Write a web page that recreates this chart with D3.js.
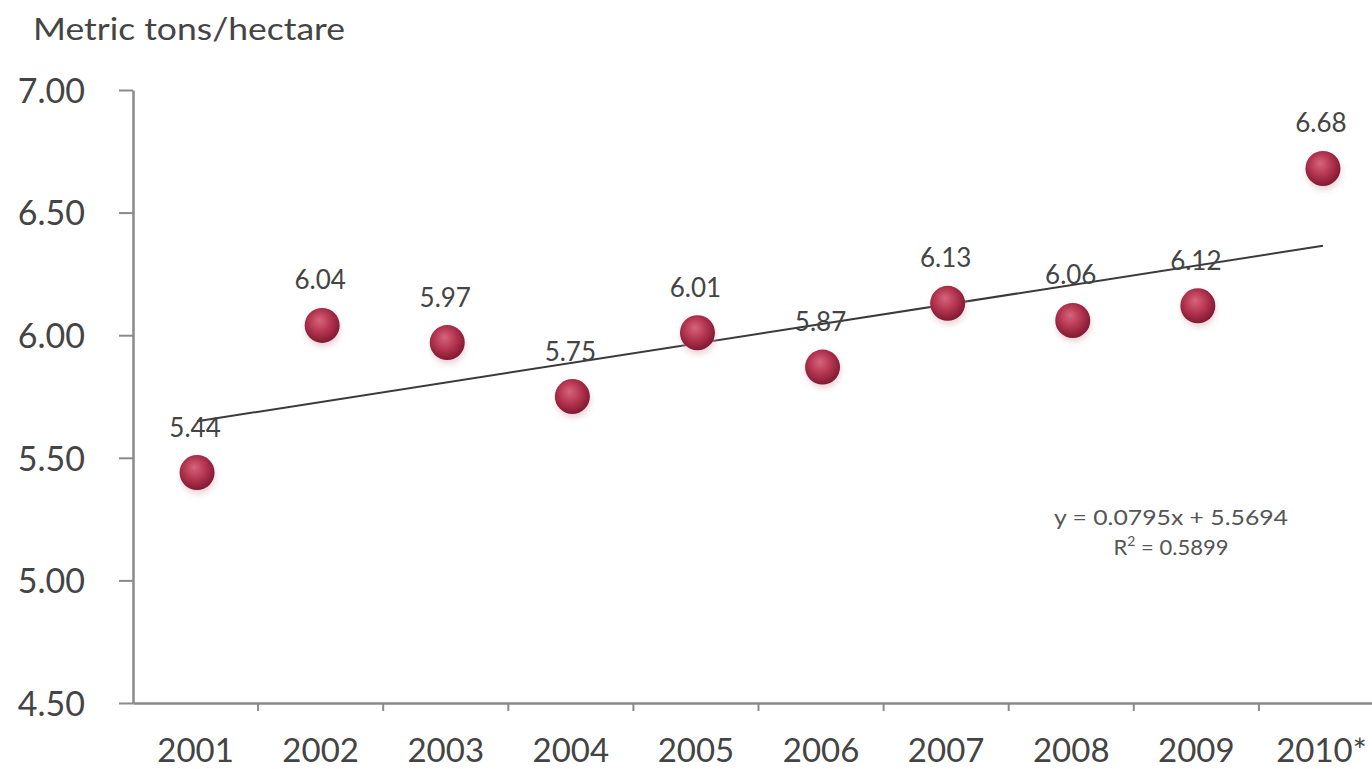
<!DOCTYPE html>
<html>
<head>
<meta charset="utf-8">
<script src="https://cdn.jsdelivr.net/npm/d3@7"></script>
<style>
  html, body { margin: 0; padding: 0; background: #ffffff; }
  svg { display: block; }
</style>
</head>
<body>
<svg id="chart" width="1372" height="769"></svg>
<script>
// ---- Data ----
const categories = ["2001", "2002", "2003", "2004", "2005", "2006", "2007", "2008", "2009", "2010*"];
const yieldValues = [5.44, 6.04, 5.97, 5.75, 6.01, 5.87, 6.13, 6.06, 6.12, 6.68];
const yTicks = [4.5, 5.0, 5.5, 6.0, 6.5, 7.0];
const trendSlope = 0.0795;
const trendIntercept = 5.5694;
const trendR2 = 0.5899;
const yAxisTitle = "Metric tons/hectare";

// ---- Layout ----
const svg = d3.select("#chart");
const plotLeft = 133, plotRight = 1384, plotTop = 90, plotBottom = 703;
const font = "Lato, 'Open Sans', 'DejaVu Sans', sans-serif";
const textColor = "#444";

const x = d3.scaleBand().domain(categories).range([plotLeft, plotRight]).padding(0);
const y = d3.scaleLinear().domain([4.5, 7.0]).range([plotBottom, plotTop]);

// gradient for balls
const defs = svg.append("defs");
const grad = defs.append("radialGradient").attr("id", "ball")
  .attr("cx", "45%").attr("cy", "42%").attr("r", "60%").attr("fx", "42%").attr("fy", "35%");
grad.append("stop").attr("offset", "0%").attr("stop-color", "#d8647c");
grad.append("stop").attr("offset", "55%").attr("stop-color", "#b2334e");
grad.append("stop").attr("offset", "100%").attr("stop-color", "#7c1830");
const blur = defs.append("filter").attr("id", "shadow").attr("x", "-50%").attr("y", "-50%").attr("width", "200%").attr("height", "200%");
blur.append("feGaussianBlur").attr("stdDeviation", 3);

// Y axis
const yAxis = d3.axisLeft(y).tickValues(yTicks).tickFormat(d3.format(".2f")).tickSizeOuter(0).tickSizeInner(14).tickPadding(34);
const gy = svg.append("g").attr("transform", `translate(${plotLeft},0)`).call(yAxis);
gy.select(".domain").attr("stroke", "#8a8a8a").attr("stroke-width", 2.5);
gy.selectAll(".tick line").attr("stroke", "#8a8a8a").attr("stroke-width", 2);
gy.selectAll(".tick text").attr("fill", textColor).attr("dy", "0.36em")
  .style("font-family", font).style("font-size", "34px");

// X axis (labels)
const xAxis = d3.axisBottom(x).tickSize(0);
const gx = svg.append("g").attr("transform", `translate(0,${plotBottom})`).call(xAxis);
gx.select(".domain").attr("stroke", "#8a8a8a").attr("stroke-width", 2.5);
gx.selectAll(".tick text").attr("fill", textColor).attr("y", 59).attr("dy", 0)
  .style("font-family", font).style("font-size", "33px");
// boundary ticks
gx.selectAll(".bound").data(categories.slice(1)).enter().append("line")
  .attr("x1", d => x(d)).attr("x2", d => x(d))
  .attr("y1", 0).attr("y2", 8)
  .attr("stroke", "#8a8a8a").attr("stroke-width", 2);

// Axis title
svg.append("text").attr("x", 33).attr("y", 40).text(yAxisTitle)
  .attr("textLength", 312).attr("lengthAdjust", "spacingAndGlyphs")
  .attr("fill", textColor).style("font-family", font).style("font-size", "31px");

// Trend line
const cx = (c) => x(c) + x.bandwidth() / 2 + 1.5;
const trendData = [0, categories.length - 1].map(i => ({ c: categories[i], v: trendSlope * (i + 1) + trendIntercept }));
svg.append("path")
  .datum(trendData)
  .attr("d", d3.line().x(d => cx(d.c)).y(d => y(d.v)))
  .attr("stroke", "#3a3a3a").attr("stroke-width", 2).attr("fill", "none");

// Balls
const pts = categories.map((c, i) => ({ c, v: yieldValues[i] }));
svg.selectAll(".shadow").data(pts).enter().append("circle")
  .attr("cx", d => cx(d.c) + 1).attr("cy", d => y(d.v) + 4).attr("r", 17)
  .attr("fill", "#d8b0b8").attr("opacity", 0.6).attr("filter", "url(#shadow)");
svg.selectAll(".ball").data(pts).enter().append("circle")
  .attr("cx", d => cx(d.c)).attr("cy", d => y(d.v)).attr("r", 17.5)
  .attr("fill", "url(#ball)");

// Value labels
svg.selectAll(".lbl").data(pts).enter().append("text")
  .attr("x", d => cx(d.c) - 2).attr("y", d => y(d.v) - 36)
  .attr("text-anchor", "middle")
  .text(d => d3.format(".2f")(d.v))
  .attr("fill", textColor).style("font-family", font).style("font-size", "26px");

// Equation
svg.append("text").attr("x", 1171).attr("y", 525).attr("text-anchor", "middle")
  .text(`y = ${trendSlope}x + ${trendIntercept}`)
  .attr("textLength", 234).attr("lengthAdjust", "spacingAndGlyphs")
  .attr("fill", "#555").style("font-family", font).style("font-size", "22px");
const r2 = svg.append("text").attr("x", 1171).attr("y", 555).attr("text-anchor", "middle")
  .attr("fill", "#555").style("font-family", font).style("font-size", "22px");
r2.append("tspan").text("R");
r2.append("tspan").attr("dy", -9).style("font-size", "14px").text("2");
r2.append("tspan").attr("dy", 9).text(` = ${trendR2}`);
</script>
</body>
</html>
